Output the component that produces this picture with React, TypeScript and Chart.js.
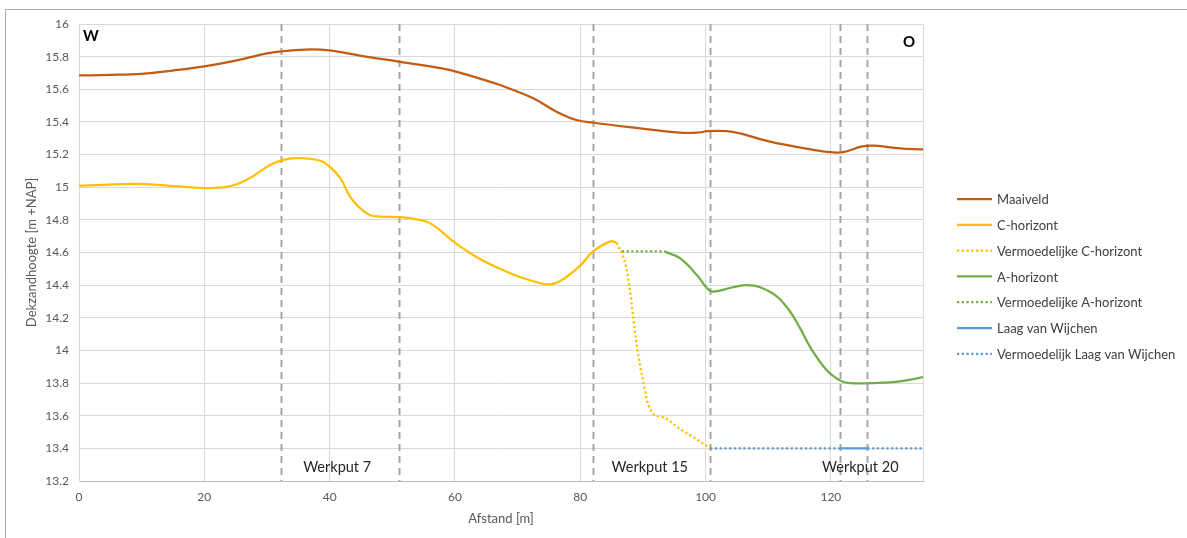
import { useEffect, useRef } from "react";
import { Chart, registerables } from "chart.js";
Chart.register(...registerables);

// ---------- data ----------
const maaiveldX = [0, 5, 10, 15, 20, 25, 30, 33, 37, 40, 45, 51, 56, 60, 64, 67.2, 72.5, 76.2, 79.4, 82.1, 88.5, 95.9, 99.1, 100.2, 103.4, 105.5, 108.7, 112, 117, 120, 122, 125, 127, 131, 134.7];
const maaiveldY = [15.685, 15.688, 15.695, 15.715, 15.74, 15.775, 15.82, 15.835, 15.845, 15.838, 15.805, 15.77, 15.74, 15.71, 15.665, 15.626, 15.545, 15.463, 15.412, 15.395, 15.365, 15.334, 15.336, 15.344, 15.344, 15.33, 15.295, 15.265, 15.23, 15.215, 15.215, 15.25, 15.255, 15.238, 15.232];

const cHorX = [0, 4, 9, 14, 20, 24, 27, 30.5, 33, 35.3, 38.5, 40, 41.7, 43.3, 44.9, 46.4, 48, 51.2, 52.8, 56, 60, 64, 69, 72, 75, 77, 80, 82, 84.8, 85.8];
const cHorY = [15.008, 15.015, 15.02, 15.01, 14.995, 15.005, 15.05, 15.136, 15.17, 15.178, 15.162, 15.126, 15.055, 14.94, 14.87, 14.83, 14.82, 14.817, 14.81, 14.78, 14.66, 14.56, 14.47, 14.43, 14.405, 14.43, 14.52, 14.605, 14.668, 14.66];

const cVermX = [85.8, 86.1, 87.2, 88, 88.5, 89.3, 90.1, 90.6, 91.7, 93.3, 95.9, 98.6, 100.7];
const cVermY = [14.66, 14.635, 14.53, 14.35, 14.186, 13.96, 13.8, 13.7, 13.61, 13.59, 13.52, 13.455, 13.4];

const aHorX = [93.4, 95.9, 98.6, 100.5, 101.3, 104.4, 106.6, 108.7, 111.4, 113.5, 115.1, 116.7, 119.3, 121.5, 123, 127, 131, 134.7];
const aHorY = [14.607, 14.565, 14.462, 14.37, 14.36, 14.387, 14.4, 14.387, 14.33, 14.237, 14.135, 14.02, 13.88, 13.815, 13.8, 13.8, 13.81, 13.837];

const aVermX = [86.6, 93.4];
const aVermY = [14.607, 14.607];

const wijchenX = [121.5, 125.8];
const wijchenY = [13.4, 13.4];

const wijchenVermX = [100.7, 121.5, 123.6, 125.8, 134.7];
const wijchenVermY = [13.4, 13.4, null, 13.4, 13.4];

const werkputLines = [32.2, 51.1, 82.1, 100.7, 121.5, 125.8];
const werkputLabels = ["Werkput 7", "Werkput 15", "Werkput 20"];
const werkputLabelX = [41.2, 91.1, 124.7];
const werkputLabelY = 13.285;

const seriesNames = ["Maaiveld", "C-horizont", "Vermoedelijke C-horizont", "A-horizont", "Vermoedelijke A-horizont", "Laag van Wijchen", "Vermoedelijk Laag van Wijchen"];
const seriesColors = ["#c55a11", "#ffc000", "#ffc000", "#70ad47", "#70ad47", "#5b9bd5", "#5b9bd5"];
const seriesDotted = [false, false, true, false, true, false, true];

const xMin = 0, xMax = 134.7, xStep = 20;
const yMin = 13.2, yMax = 16, yStep = 0.2;

const FONT = "Lato, 'Open Sans', sans-serif";

function pts(xs: number[], ys: (number | null)[]) {
  return xs.map((x, i) => ({ x, y: ys[i] }));
}

export default function App() {
  const ref = useRef<HTMLCanvasElement | null>(null);
  useEffect(() => {
    if (!ref.current) return;
    const seriesData = [
      pts(maaiveldX, maaiveldY),
      pts(cHorX, cHorY),
      pts(cVermX, cVermY),
      pts(aHorX, aHorY),
      pts(aVermX, aVermY),
      pts(wijchenX, wijchenY),
      pts(wijchenVermX, wijchenVermY),
    ];
    const datasets = seriesNames.map((name, i) => ({
      label: name,
      data: seriesData[i],
      borderColor: seriesColors[i],
      backgroundColor: seriesColors[i],
      borderWidth: 2.25,
      borderDash: seriesDotted[i] ? [2.25, 2.5] : [],
      pointRadius: 0,
      fill: false,
      tension: 0.4,
      cubicInterpolationMode: (i === 2 ? "monotone" : "default") as any,
      spanGaps: false,
    }));
    const ordered = [datasets[6], datasets[0], datasets[1], datasets[2], datasets[3], datasets[4], datasets[5]];

    const overlay = {
      id: "overlay",
      beforeDatasetsDraw(chart: any) {
        const { ctx, chartArea, scales } = chart;
        ctx.save();
        ctx.strokeStyle = "#a6a6a6";
        ctx.lineWidth = 2;
        ctx.setLineDash([7, 5]);
        werkputLines.forEach((v) => {
          const x = Math.round(scales.x.getPixelForValue(v)) + 0.5;
          ctx.beginPath();
          ctx.moveTo(x, chartArea.top);
          ctx.lineTo(x, chartArea.bottom);
          ctx.stroke();
        });
        ctx.restore();
      },
      afterDraw(chart: any) {
        const { ctx, chartArea, scales } = chart;
        ctx.save();
        ctx.strokeStyle = "#d9d9d9";
        ctx.lineWidth = 1;
        ctx.beginPath();
        ctx.moveTo(Math.round(chartArea.right) + 0.5, chartArea.top);
        ctx.lineTo(Math.round(chartArea.right) + 0.5, chartArea.bottom);
        ctx.stroke();
        ctx.strokeStyle = "#ababab";
        ctx.beginPath();
        ctx.moveTo(5.5, 540);
        ctx.lineTo(5.5, 9.5);
        ctx.lineTo(1190, 9.5);
        ctx.stroke();
        ctx.fillStyle = "#262626";
        ctx.font = `14.5px ${FONT}`;
        ctx.textAlign = "center";
        ctx.textBaseline = "middle";
        werkputLabels.forEach((t, i) => {
          ctx.fillText(t, scales.x.getPixelForValue(werkputLabelX[i]), scales.y.getPixelForValue(werkputLabelY));
        });
        ctx.fillStyle = "#000000";
        ctx.font = `bold 15px ${FONT}`;
        ctx.fillText("W", chartArea.left + 12, chartArea.top + 12);
        ctx.fillText("O", chartArea.right - 14, chartArea.top + 18);
        ctx.font = `13px ${FONT}`;
        ctx.textAlign = "left";
        seriesNames.forEach((name, i) => {
          const y = 199 + i * 25.8;
          ctx.strokeStyle = seriesColors[i];
          ctx.lineWidth = 2.25;
          ctx.setLineDash(seriesDotted[i] ? [2.25, 2.5] : []);
          ctx.beginPath();
          ctx.moveTo(957, y);
          ctx.lineTo(992, y);
          ctx.stroke();
          ctx.fillStyle = "#404040";
          ctx.fillText(name, 997, y + 1);
        });
        ctx.restore();
      },
    };

    const chart = new Chart(ref.current, {
      type: "line",
      data: { datasets: ordered as any },
      options: {
        animation: false,
        responsive: false,
        layout: { padding: { left: 0, top: 24, right: 264, bottom: 0 } },
        plugins: { legend: { display: false }, tooltip: { enabled: false } },
        scales: {
          x: {
            type: "linear",
            min: xMin,
            max: xMax,
            afterFit: (s: any) => { s.height = 57; },
            ticks: {
              stepSize: xStep,
              includeBounds: false,
              color: "#595959",
              font: { family: FONT, size: 12 },
              padding: 9,
              maxRotation: 0,
            },
            grid: { color: "#d9d9d9", lineWidth: 1, drawTicks: false },
            border: { display: true, color: "#bfbfbf", width: 1 },
            title: {
              display: true,
              text: "Afstand [m]",
              color: "#595959",
              font: { family: FONT, size: 13 },
              padding: { top: 0, bottom: 11 },
            },
          },
          y: {
            type: "linear",
            min: yMin,
            max: yMax,
            afterFit: (s: any) => { s.width = 79; },
            ticks: {
              stepSize: yStep,
              color: "#595959",
              font: { family: FONT, size: 12 },
              padding: 10,
              callback: (v: any) => String(parseFloat(Number(v).toFixed(1))),
            },
            grid: { color: "#d9d9d9", lineWidth: 1, drawTicks: false },
            border: { display: true, color: "#d9d9d9", width: 1 },
            title: {
              display: true,
              text: "Dekzandhoogte [m +NAP]",
              color: "#595959",
              font: { family: FONT, size: 13 },
              padding: { top: 24, bottom: 0 },
            },
          },
        },
      },
      plugins: [overlay],
    });
    return () => chart.destroy();
  }, []);

  return (
    <div style={{ position: "absolute", left: 0, top: 0, width: 1187, height: 538, background: "#ffffff" }}>
      <canvas ref={ref} width={1187} height={538} style={{ display: "block" }} />
    </div>
  );
}
